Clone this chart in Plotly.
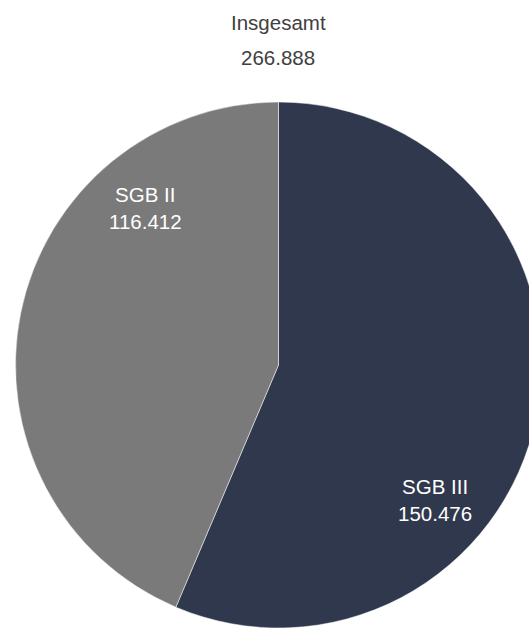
import plotly.graph_objects as go

categories = ["SGB III", "SGB II"]
values = [150476, 116412]
value_labels = ["150.476", "116.412"]
total_label = "266.888"
title_text = "Insgesamt"
colors = ["#30384e", "#7a7a7a"]

W, H = 557, 628
T = 102  # top margin
PH = H - T


def py2paper(py):
    return (H - py) / PH


fig = go.Figure(go.Pie(
    labels=categories,
    values=values,
    sort=False,
    direction="clockwise",
    rotation=0,
    marker=dict(colors=colors, line=dict(color="#ffffff", width=0.5)),
    textinfo="none",
    hoverinfo="label+value",
    showlegend=False,
    domain=dict(x=[0, 1], y=[0, 1]),
))

font = dict(family="Liberation Sans, Arial, sans-serif", size=20.5)
ann = [
    dict(text=title_text, x=278 / W, y=py2paper(22), xref="paper", yref="paper",
         showarrow=False, font=dict(font, color="#404040"), xanchor="center", yanchor="middle"),
    dict(text=total_label, x=278 / W, y=py2paper(57), xref="paper", yref="paper",
         showarrow=False, font=dict(font, color="#404040"), xanchor="center", yanchor="middle"),
]
label_pos = {"SGB II": (145, 208), "SGB III": (435, 500)}
for cat, lab in zip(categories, value_labels):
    px, py = label_pos[cat]
    ann.append(dict(text=f"{cat}<br>{lab}", x=px / W, y=py2paper(py), xref="paper", yref="paper",
                    showarrow=False, font=dict(font, color="#ffffff"),
                    xanchor="center", yanchor="middle", align="center"))

fig.update_layout(
    width=W, height=H,
    margin=dict(l=0, r=0, t=T, b=0),
    paper_bgcolor="#ffffff",
    plot_bgcolor="#ffffff",
    annotations=ann,
    font=font,
)

fig.write_html("out.html",
               config={"displayModeBar": False},
               post_script="document.body.style.margin='0';document.body.style.overflow='hidden';document.documentElement.style.overflow='hidden';")
